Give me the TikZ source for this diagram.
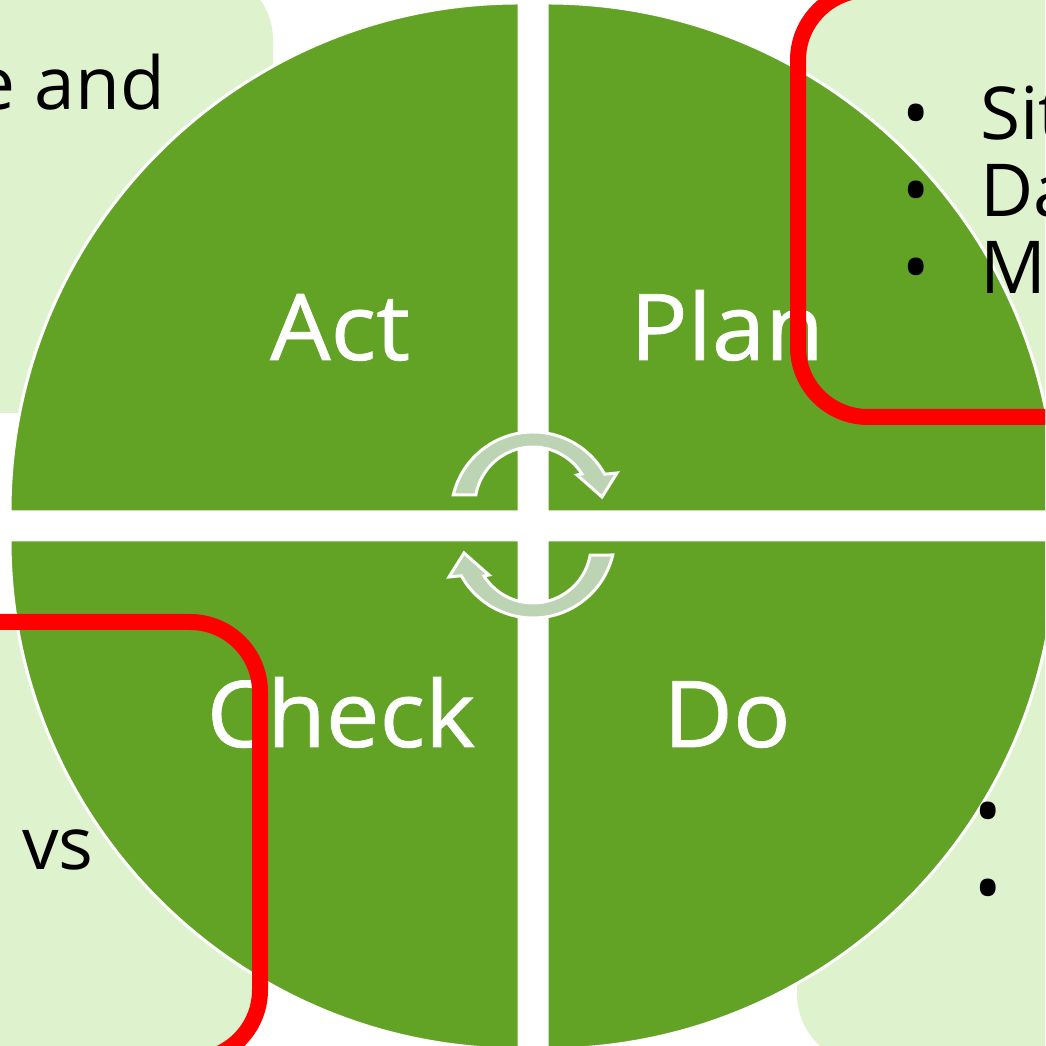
\documentclass[tikz,border=0pt]{standalone}
\usepackage{fontspec}
\setmainfont{Open Sans}
\newfontfamily\phasefont[FakeBold=0.8, FakeStretch=1.04]{Open Sans}
\usetikzlibrary{calc, positioning}
\definecolor{leafgreen}{RGB}{98,163,37}
\definecolor{palegreen}{RGB}{223,242,206}
\definecolor{arrowgray}{RGB}{188,211,180}
\def\rad{509}
\tikzset{
    quarter/.style = {
        fill=leafgreen, draw=white, line width=3pt
    },
    notebox/.style = {fill=palegreen, rounded corners=70pt},
    flagbox/.style = {draw=red, line width=16pt, rounded corners=70pt},
    phase/.style = {text=white, font=\phasefont\fontsize{92}{100}\selectfont, inner sep=0pt, anchor=base},
    note/.style = {text=black, font=\fontsize{73}{77}\selectfont, inner sep=0pt},
    pics/turnarrow/.style={
        code = {
            \draw [fill=arrowgray, draw=white, line width=3pt, line join=miter]
                (166.6:82) arc[start angle=166.6, end angle=29, radius=82]
                -- (84,41) -- (69,17) -- (44,39) -- (49,40)
                arc[start angle=32.3, end angle=170, radius=58] -- cycle;
    }}
    }

\begin{document}
\begin{tikzpicture}[x=1pt, y=1pt]
        \useasboundingbox (0,0) rectangle (1045,1046);
        \clip (0,0) rectangle (1045,1046);
        % note boxes
        \fill[notebox] (-100,633) rectangle (273,1076);
        \fill[notebox] (798,629) rectangle (1200,1056);
        \fill[notebox] (797,-18) rectangle (1200,426);
        \fill[notebox] (-100,-14) rectangle (260,424);
        % the four quarters
        \draw[quarter] (519,534) -- ++(-\rad,0) arc[start angle=180, end angle=90, radius=\rad] -- cycle;
        \draw[quarter] (547,534) -- ++(\rad,0) arc[start angle=0, end angle=90, radius=\rad] -- cycle;
        \draw[quarter] (519,506) -- ++(-\rad,0) arc[start angle=180, end angle=270, radius=\rad] -- cycle;
        \draw[quarter] (547,506) -- ++(\rad,0) arc[start angle=0, end angle=-90, radius=\rad] -- cycle;
        \draw (533,532) pic (t1) {turnarrow};
        \draw (533,510) pic[rotate=180] (t2) {turnarrow};
        \node[phase] (act) at (340,686) {Act};
        \node[phase] (plan) at (727,686) {Plan};
        \node[phase] (check) at (341,299) {Check};
        \node[phase] (do) at (727,299) {Do};
        % texts of the boxes
        \node[note, anchor=base east] (standard) at (165,936) {e and};
        \foreach \txt [count=\i] in {Sit, Da, Ma} {
            \node[note, anchor=base] (dot\i) at (916, {983-77*\i}) {\textbullet};
            \node[note, anchor=base west] (item\i) at (980, {983-77*\i}) {\txt};
        }
        \node[note, anchor=base] (step1) at (988,208) {\textbullet};
        \node[note, anchor=base] (step2) at (988,131) {\textbullet};
        \node[note, anchor=base west] (versus) at (22,176) {vs};
        \draw[flagbox] (798,629) rectangle (1200,1056);
        \draw[flagbox] (-100,-14) rectangle (260,424);
    \end{tikzpicture}
\end{document}
